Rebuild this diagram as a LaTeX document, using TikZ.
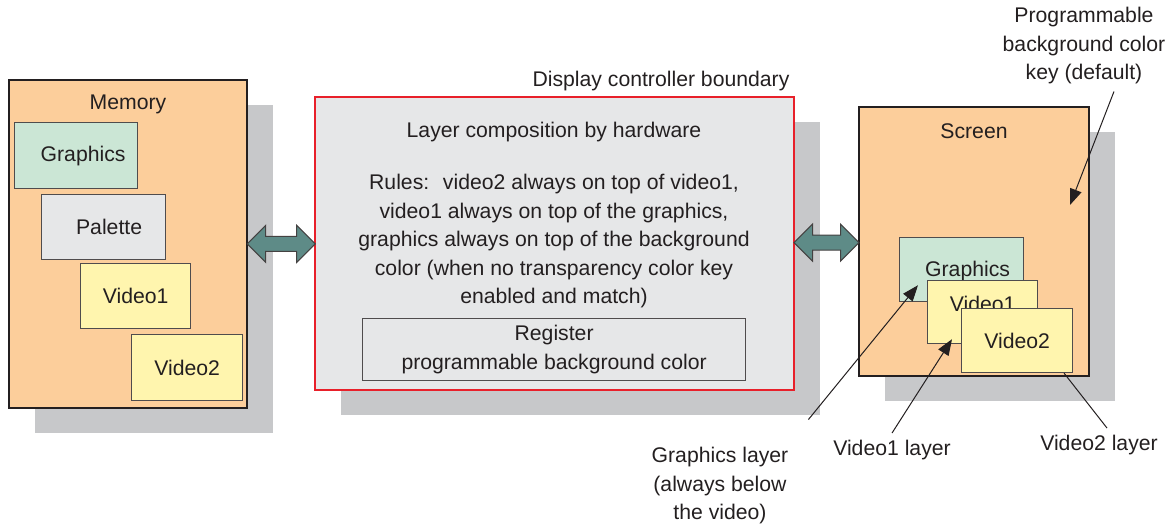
\documentclass[tikz,border=0pt]{standalone}
\usepackage{fontspec}
\setmainfont{Liberation Sans}
\definecolor{inkblack}{HTML}{231F20}
\definecolor{panelorange}{HTML}{FCCE9B}
\definecolor{shadowgray}{HTML}{C7C8CA}
\definecolor{ctrlgray}{HTML}{E6E7E8}
\definecolor{gfxgreen}{HTML}{CBE6D5}
\definecolor{vidyellow}{HTML}{FFF5AE}
\definecolor{boundred}{HTML}{E8202A}
\definecolor{linkteal}{HTML}{5E8B87}
\usetikzlibrary{arrows.meta, shapes.arrows, shadows, calc, positioning}

\begin{document}
\begin{tikzpicture}[
    x=0.5pt, y=-0.5pt,
    font=\fontsize{10.6}{14.25}\selectfont, text=inkblack,
    boxshadow/.style={general shadow={fill=shadowgray,
                      shadow xshift=13pt, shadow yshift=-12.5pt}},
    panel/.style={draw=inkblack, line width=1.2pt, fill=panelorange,
                  boxshadow, anchor=north west},
    ctrl/.style={draw=boundred, line width=1pt, fill=ctrlgray,
                 boxshadow, anchor=north west},
    planebox/.style={draw=inkblack!80, line width=0.6pt, anchor=north west},
    dblarrow/.style={double arrow, draw=inkblack!85, line width=0.5pt,
                     fill=linkteal, inner sep=3.5pt,
                     double arrow head extend=5.5pt},
    callout/.style={draw=inkblack, line width=0.5pt,
                    -{Triangle[length=8pt, width=6pt]}},
    leader/.style={draw=inkblack, line width=0.5pt}
  ]
  \useasboundingbox (0,0) rectangle (1167,529);

  % memory
  \node[panel, minimum width=119pt, minimum height=164pt] (mem) at (8,79) {};
  \node (memlbl) at (128,104) {Memory};
  \node[planebox, fill=gfxgreen, minimum width=61.5pt, minimum height=33pt,
        label={[xshift=3.5pt]center:Graphics}] (mgfx) at (14,122) {};
  \node[planebox, fill=ctrlgray, minimum width=62pt, minimum height=32.5pt,
        label={[xshift=2.75pt]center:Palette}] (mpal) at (41,194) {};
  \node[planebox, fill=vidyellow, minimum width=55pt, minimum height=32.5pt] (mvid1) at (80,263) {Video1};
  \node[planebox, fill=vidyellow, minimum width=55.5pt, minimum height=33pt] (mvid2) at (131,334) {Video2};

  % display controller
  \node[ctrl, minimum width=239.5pt, minimum height=146.5pt] (ctrl) at (314,96) {};
  \node (ctrllbl) at (661,81) {Display controller boundary};
  \node (compose) at (554,132) {Layer composition by hardware};
  \node[align=center] (rules) at (554,241.5) {Rules:~ video2 always on top of video1,\\
    video1 always on top of the graphics,\\
    graphics always on top of the background\\
    color (when no transparency color key\\
    enabled and match)};
  \node[planebox, fill=ctrlgray, align=center, minimum width=191.5pt, minimum height=29.5pt] (reg) at (362,318)
    {Register\\programmable background color};

  % screen
  \node[panel, minimum width=115pt, minimum height=134.5pt] (scr) at (858,106) {};
  \node (scrlbl) at (974,131) {Screen};
  \node[planebox, fill=gfxgreen, minimum width=62pt, minimum height=32pt,
        label={[xshift=3pt, yshift=-0.5pt]center:Graphics}] (sgfx) at (899,237) {};
  \node[planebox, fill=vidyellow, minimum width=55pt, minimum height=31.5pt,
        label={[yshift=4.25pt]center:Video1}] (svid1) at (927,280) {};
  \node[planebox, fill=vidyellow, minimum width=55.5pt, minimum height=32pt] (svid2) at (961,308) {Video2};

  % links between the blocks
  \node[dblarrow, minimum height=34pt] (linkL) at ($(mem.east)!0.5!(ctrl.west)$) {};
  \node[dblarrow, minimum height=32.5pt] (linkR) at ($(ctrl.east)!0.5!(scr.west)$) {};

  % callouts
  \node[align=center] (keylbl) at (1084,46) {Programmable\\background color\\key (default)};
  \coordinate (keytip) at (1070,205);
  \draw[callout] ([xshift=15pt]keylbl.south) -- (keytip);

  \node[align=center] (gfxlayer) at (720,486) {Graphics layer\\(always below\\the video)};
  \draw[callout] ([shift={(13,-21)}]gfxlayer.north east) -- ($(sgfx.south west)+(19,-17)$);

  \node (v1layer) at (892,450) {Video1 layer};
  \draw[callout] (v1layer.north) -- ($(svid1.south west)+(25,-5)$);

  \node (v2layer) at (1099,445) {Video2 layer};
  \draw[leader] ([xshift=4pt]v2layer.north) -- ($(svid2.south)+(47,0)$);
\end{tikzpicture}
\end{document}
